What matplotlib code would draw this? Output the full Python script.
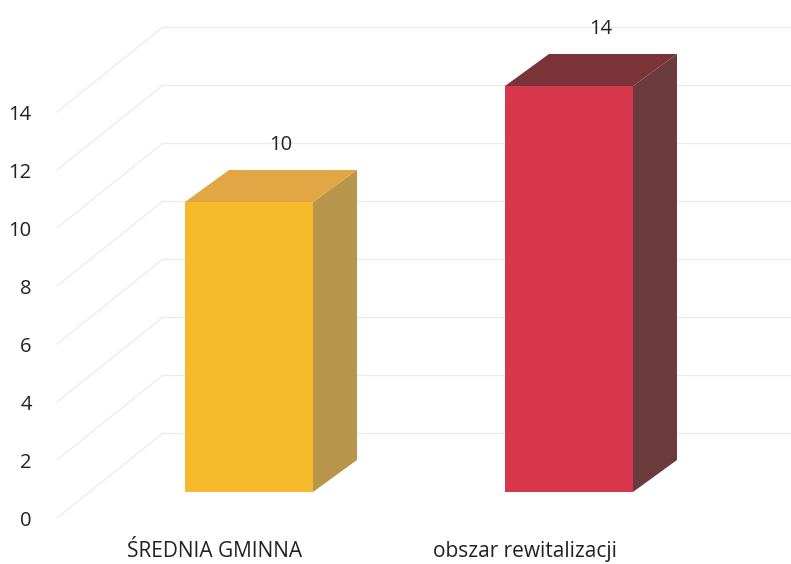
import matplotlib
matplotlib.use("Agg")
import matplotlib.pyplot as plt
from matplotlib.patches import Polygon

categories = ["ŚREDNIA GMINNA", "obszar rewitalizacji"]
values = [10, 14]
value_labels = ["10", "14"]
yticks = [0, 2, 4, 6, 8, 10, 12, 14]

front_colors = ["#F6BA2C", "#D8364A"]
top_colors = ["#E2A744", "#7A3438"]
side_colors = ["#B7964C", "#6C3B3E"]

W, H = 791, 564
fig = plt.figure(figsize=(W / 100, H / 100), dpi=100)
left_px = 40
ax = fig.add_axes([left_px / W, 0, 1 - left_px / W, 1])

PX_X = 320.0   # pixels per category unit
PX_Y = 29.0    # pixels per value unit
X0 = 249.0     # pixel of category 0 bar center
Y0 = 518.0     # pixel of value 0 on the front plane

ax.set_xlim((left_px - X0) / PX_X, (W - X0) / PX_X)
ax.set_ylim((Y0 - H) / PX_Y, Y0 / PX_Y)

# 3D projection offsets (in data units)
floor_dx, floor_dy = 106 / PX_X, 85 / PX_Y       # full depth of floor
bar_front_dx, bar_front_dy = 34 / PX_X, 26 / PX_Y
bar_dx, bar_dy = 44 / PX_X, 32 / PX_Y
bar_w = 128 / PX_X
grid_x0 = (57 - X0) / PX_X
xmax = (W - X0) / PX_X

grid_col = "#EBEBEB"
for t in yticks:
    ax.plot([grid_x0, grid_x0 + floor_dx], [t, t + floor_dy], color=grid_col, lw=0.9, zorder=1)
    ax.plot([grid_x0 + floor_dx, xmax], [t + floor_dy, t + floor_dy], color=grid_col, lw=0.9, zorder=1)

for i, v in enumerate(values):
    xl = i - bar_w / 2
    xr = i + bar_w / 2
    yb = bar_front_dy
    yt = v + bar_front_dy
    front = [(xl, yb), (xr, yb), (xr, yt), (xl, yt)]
    side = [(xr, yb), (xr + bar_dx, yb + bar_dy), (xr + bar_dx, yt + bar_dy), (xr, yt)]
    top = [(xl, yt), (xr, yt), (xr + bar_dx, yt + bar_dy), (xl + bar_dx, yt + bar_dy)]
    ax.add_patch(Polygon(side, closed=True, facecolor=side_colors[i], edgecolor="none", zorder=3))
    ax.add_patch(Polygon(top, closed=True, facecolor=top_colors[i], edgecolor="none", zorder=3))
    ax.add_patch(Polygon(front, closed=True, facecolor=front_colors[i], edgecolor="none", zorder=4))
    ax.text(i + bar_dx / 2 + 0.03, yt + bar_dy + 0.85, value_labels[i], ha="center", va="center",
            fontsize=14.5, color="#222222", family="Open Sans", zorder=5)
    ax.text(i - bar_front_dx - 0.03 * i, -1.15, categories[i], ha="center", va="center",
            fontsize=15, color="#222222", family="Open Sans")

ax.set_yticks(yticks)
ax.set_yticklabels([str(t) for t in yticks], family="Open Sans", fontsize=14.5, color="#222222")
ax.tick_params(axis="y", length=0, pad=6)
ax.set_xticks([])
for s in ax.spines.values():
    s.set_visible(False)

fig.savefig("out.png", dpi=100, facecolor="white")
